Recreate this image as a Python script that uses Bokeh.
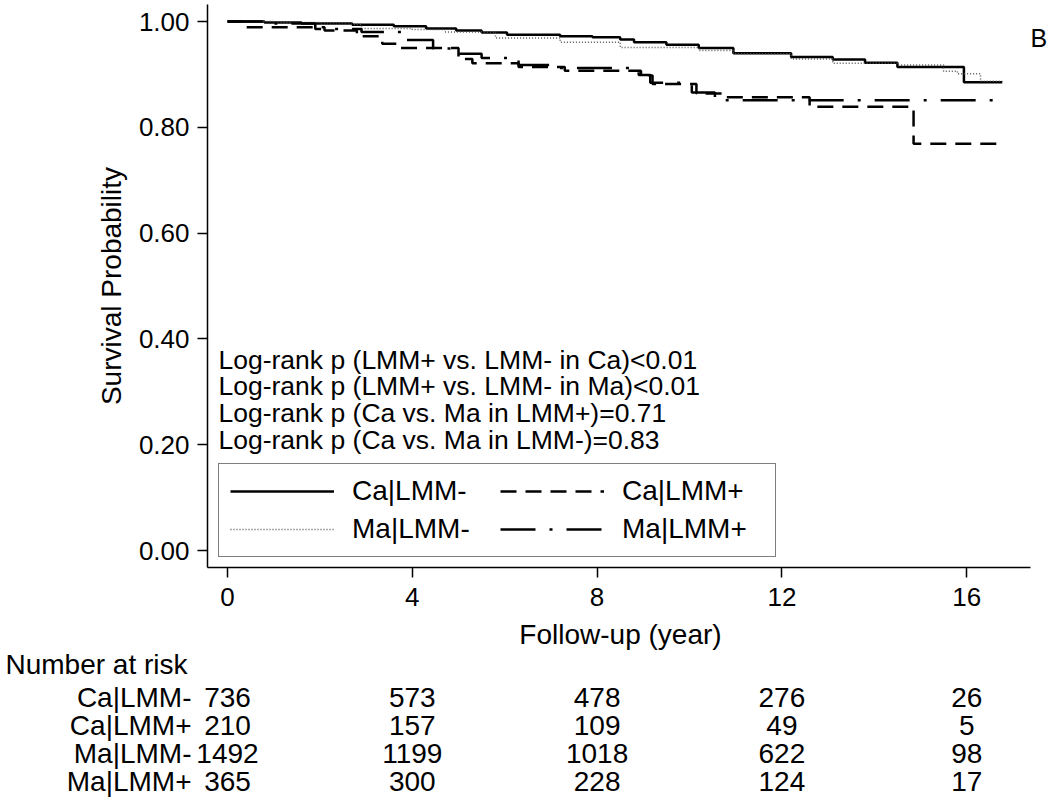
from bokeh.plotting import figure
from bokeh.layouts import column
from bokeh.models import Range1d, Legend, LegendItem, NumeralTickFormatter, FixedTicker
from bokeh.core.properties import value
from bokeh.embed import file_html
from bokeh.resources import INLINE

FONT = "Liberation Sans"

# ---------------- data ----------------
groups = ["Ca|LMM-", "Ca|LMM+", "Ma|LMM-", "Ma|LMM+"]

ca_neg_t = [0, 0.8, 1.6, 2.7, 3.6, 4.3, 4.95, 5.5, 6.05, 7.2, 7.9, 8.5, 8.8, 9.5, 10.2, 10.95, 12.2, 13.1, 13.8, 14.5, 15.94, 16.77]
ca_neg_s = [1.0, 0.998, 0.996, 0.994, 0.991, 0.987, 0.983, 0.979, 0.975, 0.972, 0.970, 0.966, 0.961, 0.956, 0.950, 0.940, 0.933, 0.928, 0.922, 0.914, 0.885, 0.885]

ca_pos_t = [0, 0.4, 2.1, 2.8, 3.35, 3.7, 5.0, 5.3, 6.3, 7.3, 8.95, 9.2, 10.15, 10.7, 12.6, 14.85, 16.77]
ca_pos_s = [1.0, 0.989, 0.983, 0.972, 0.958, 0.950, 0.929, 0.921, 0.914, 0.907, 0.898, 0.882, 0.864, 0.857, 0.839, 0.769, 0.769]

ma_neg_t = [0, 1.0, 2.0, 2.9, 4.0, 4.7, 5.8, 7.2, 8.5, 10.2, 10.95, 12.2, 13.1, 14.5, 15.5, 15.8, 16.3, 16.77]
ma_neg_s = [1.0, 0.998, 0.995, 0.987, 0.985, 0.980, 0.969, 0.961, 0.951, 0.945, 0.939, 0.929, 0.921, 0.918, 0.906, 0.901, 0.887, 0.887]

ma_pos_t = [0, 0.8, 1.9, 2.9, 3.85, 4.45, 5.0, 5.5, 6.3, 7.1, 8.9, 9.15, 10.05, 10.55, 16.77]
ma_pos_s = [1.0, 0.996, 0.986, 0.980, 0.965, 0.949, 0.939, 0.931, 0.918, 0.912, 0.899, 0.884, 0.866, 0.851, 0.851]

risk_times = [0, 4, 8, 12, 16]
risk_ca_neg = [736, 573, 478, 276, 26]
risk_ca_pos = [210, 157, 109, 49, 5]
risk_ma_neg = [1492, 1199, 1018, 622, 98]
risk_ma_pos = [365, 300, 228, 124, 17]

logrank_texts = [
    "Log-rank p (LMM+ vs. LMM- in Ca)<0.01",
    "Log-rank p (LMM+ vs. LMM- in Ma)<0.01",
    "Log-rank p (Ca vs. Ma in LMM+)=0.71",
    "Log-rank p (Ca vs. Ma in LMM-)=0.83",
]

x_ticks = [0, 4, 8, 12, 16]
y_ticks = [0.0, 0.2, 0.4, 0.6, 0.8, 1.0]
x_title = "Follow-up (year)"
y_title = "Survival Probability"
panel_letter = "B"
table_title = "Number at risk"

# ---------------- geometry helpers (page px -> data) ----------------
W = 1048
H_MAIN = 617
H_TOTAL = 808
PX_PER_YEAR = 46.2
X0_PAGE = 227.0
Y1_PAGE = 21.0
PX_PER_UNIT = 529.0
FRAME_L, FRAME_T, FRAME_B, AXIS_R = 207, 4, 567, 1030


def xd(px):
    return (px - X0_PAGE) / PX_PER_YEAR


def yd(py):
    return 1.0 - (py - Y1_PAGE) / PX_PER_UNIT


p = figure(
    width=W, height=H_MAIN,
    x_range=Range1d(xd(FRAME_L), xd(W)),
    y_range=Range1d(yd(FRAME_B), yd(FRAME_T)),
    output_backend="svg", toolbar_location=None,
    min_border_left=FRAME_L, min_border_right=0, min_border_top=FRAME_T,
    min_border_bottom=H_MAIN - FRAME_B,
)
p.frame_align = False
p.outline_line_color = None
p.grid.visible = False
p.background_fill_color = "white"
p.border_fill_color = "white"

for ax in (p.xaxis[0], p.yaxis[0]):
    ax.axis_line_color = "black"
    ax.axis_line_width = 1.5
    ax.major_tick_line_color = "black"
    ax.major_tick_line_width = 1.5
    ax.major_tick_out = 10
    ax.major_tick_in = 0
    ax.minor_tick_line_color = None
    ax.major_label_text_font = FONT
    ax.major_label_text_font_size = "26px"
    ax.major_label_text_color = "black"
    ax.axis_label_text_font = FONT
    ax.axis_label_text_font_size = "28px"
    ax.axis_label_text_font_style = "normal"
    ax.axis_label_text_color = "black"

p.xaxis.ticker = FixedTicker(ticks=x_ticks)
p.yaxis.ticker = FixedTicker(ticks=y_ticks)
p.yaxis.formatter = NumeralTickFormatter(format="0.00")
p.xaxis.bounds = (xd(FRAME_L), xd(AXIS_R))
p.yaxis.axis_label = y_title
p.xaxis.major_label_standoff = 10
p.yaxis.major_label_standoff = 8
p.yaxis.axis_label_standoff = 9

r1 = p.step(ca_neg_t, ca_neg_s, mode="after", line_color="black", line_width=2.5)
r2 = p.step(ca_pos_t, ca_pos_s, mode="after", line_color="black", line_width=2.5, line_dash="16 9")
r3 = p.step(ma_neg_t, ma_neg_s, mode="after", line_color="#555555", line_width=1.5, line_dash="1 2")
r4 = p.step(ma_pos_t, ma_pos_s, mode="after", line_color="black", line_width=2.5, line_dash="35 14 3 14")

# log-rank text
lr_y = [yd(v) for v in (359, 385.5, 412, 439)]
lr_x = [xd(218)] * len(logrank_texts)
p.text(x=lr_x, y=lr_y, text=logrank_texts, text_font=value(FONT), text_font_size="26.5px",
       text_baseline="alphabetic", text_align="left", text_color="black")

# panel letter
p.text(x=[xd(1030)], y=[yd(37)], text=[panel_letter], text_font=value(FONT), text_font_size="25px",
       text_baseline="alphabetic", text_align="left", text_color="black")

legend = Legend(
    items=[
        LegendItem(label=groups[0], renderers=[r1]),
        LegendItem(label=groups[1], renderers=[r2]),
        LegendItem(label=groups[2], renderers=[r3]),
        LegendItem(label=groups[3], renderers=[r4]),
    ],
    orientation="horizontal", nrows=2,
    location=(11, 10),
    border_line_color="black", border_line_width=1.5,
    background_fill_color="white", background_fill_alpha=1.0,
    label_text_font=FONT, label_text_font_size="28px", label_text_color="black",
    glyph_width=104, glyph_height=20, label_standoff=18, label_width=142,
    spacing=6, padding=11, margin=0,
)
p.add_layout(legend, "center")

# ---------------- x title + number-at-risk table (second figure, page-px coordinates) ----------------
H_TABLE = H_TOTAL - H_MAIN
t = figure(
    width=W, height=H_TABLE,
    x_range=Range1d(xd(0), xd(W)),
    y_range=Range1d(H_TOTAL, H_MAIN),
    output_backend="svg", toolbar_location=None,
    x_axis_type=None, y_axis_type=None,
    min_border_left=0, min_border_right=0, min_border_top=0, min_border_bottom=0,
)
t.frame_align = False
t.outline_line_color = None
t.grid.visible = False

t.text(x=[xd(620)], y=[634], text=[x_title], text_font=value(FONT), text_font_size="28px",
       text_align="center", text_baseline="middle", text_color="black")

row_py = [664, 697, 725, 753, 781]
t.text(x=[xd(5)], y=[row_py[0]], text=[table_title], text_font=value(FONT), text_font_size="28px",
       text_align="left", text_baseline="middle", text_color="black")
t.text(x=[xd(191)] * len(groups), y=row_py[1:], text=groups, text_font=value(FONT),
       text_font_size="28px", text_align="right", text_baseline="middle", text_color="black")

rows = [risk_ca_neg, risk_ca_pos, risk_ma_neg, risk_ma_pos]
cell_x, cell_y, cell_txt = [], [], []
for counts, py in zip(rows, row_py[1:]):
    for tm, c in zip(risk_times, counts):
        cell_x.append(tm)
        cell_y.append(py)
        cell_txt.append(str(c))
t.text(x=cell_x, y=cell_y, text=cell_txt, text_font=value(FONT), text_font_size="28px",
       text_align="center", text_baseline="middle", text_color="black")

layout = column(p, t, spacing=0)
open("out.html", "w").write(file_html(layout, INLINE))
